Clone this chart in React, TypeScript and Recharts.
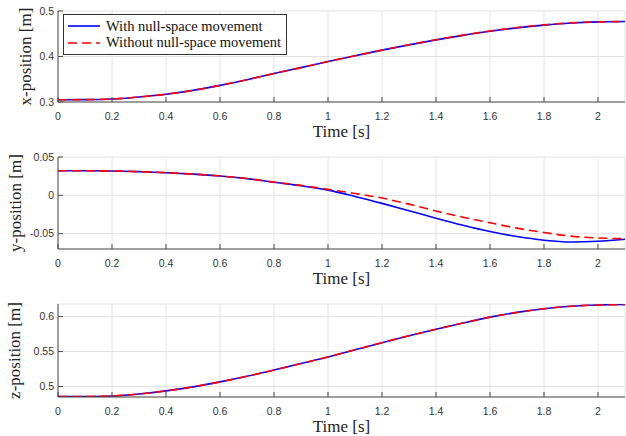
import { LineChart, Line, XAxis, YAxis, CartesianGrid, Legend } from 'recharts';

const SERIF = '"Liberation Serif", "DejaVu Serif", serif';
const SANS = '"Liberation Sans", Arial, sans-serif';

// time samples [s]
const times = [0, 0.1, 0.2, 0.3, 0.4, 0.5, 0.6, 0.7, 0.8, 0.9, 1, 1.1, 1.2, 1.3, 1.4, 1.5, 1.6, 1.7, 1.8, 1.9, 2, 2.1];
const timeTicks = [0, 0.2, 0.4, 0.6, 0.8, 1, 1.2, 1.4, 1.6, 1.8, 2];

const xWithNull = [0.305, 0.3052, 0.3065, 0.311, 0.317, 0.3255, 0.3365, 0.349, 0.3625, 0.3755, 0.389, 0.4015, 0.414, 0.4255, 0.4365, 0.4465, 0.4555, 0.463, 0.469, 0.4735, 0.476, 0.4768];
const xWithoutNull = [0.305, 0.3052, 0.3065, 0.311, 0.317, 0.3255, 0.3365, 0.349, 0.3625, 0.3755, 0.389, 0.4015, 0.414, 0.4257, 0.4368, 0.447, 0.456, 0.4636, 0.4695, 0.4738, 0.4762, 0.4768];

const yWithNull = [0.032, 0.032, 0.0318, 0.0309, 0.0295, 0.0277, 0.0253, 0.0218, 0.017, 0.0125, 0.0068, -0.0015, -0.0105, -0.02, -0.0298, -0.039, -0.0472, -0.0538, -0.0585, -0.0608, -0.0598, -0.0572];
const yWithoutNull = [0.032, 0.032, 0.0318, 0.0309, 0.0295, 0.0277, 0.0253, 0.0219, 0.0172, 0.013, 0.0078, 0.0025, -0.0035, -0.0115, -0.0205, -0.0285, -0.0358, -0.0428, -0.0485, -0.0532, -0.0556, -0.0566];

const zWithNull = [0.4855, 0.4857, 0.4865, 0.4893, 0.4937, 0.4995, 0.5066, 0.5146, 0.5235, 0.5328, 0.5423, 0.5525, 0.5627, 0.5725, 0.5818, 0.5908, 0.5992, 0.606, 0.6112, 0.6148, 0.6166, 0.6172];
const zWithoutNull = [0.4855, 0.4857, 0.4865, 0.4893, 0.4937, 0.4995, 0.5066, 0.5146, 0.5235, 0.5328, 0.5423, 0.5525, 0.5627, 0.5725, 0.5818, 0.5908, 0.5992, 0.606, 0.6112, 0.6148, 0.6166, 0.6172];

const seriesNames = ['With null-space movement', 'Without null-space movement'];

const panels = [
  { label: 'x-position [m]', top: 0, plotH: 91, labelOffset: 24.5, domain: [0.3, 0.5], ticks: [0.3, 0.4, 0.5], a: xWithNull, b: xWithoutNull, legend: true },
  { label: 'y-position [m]', top: 146, plotH: 92, labelOffset: 14.5, domain: [-0.07, 0.05], ticks: [-0.05, 0, 0.05], a: yWithNull, b: yWithoutNull, legend: false },
  { label: 'z-position [m]', top: 293, plotH: 93, labelOffset: 14, domain: [0.485, 0.618], ticks: [0.5, 0.55, 0.6], a: zWithNull, b: zWithoutNull, legend: false },
];

const AXIS = '#4a4a4a';
const TICK_LEN = 5;

// ticks point inwards, MATLAB style
const BottomTick = ({ x, y, payload }: any) => (
  <g>
    <line x1={x} x2={x} y1={y} y2={y - TICK_LEN} stroke={AXIS} />
    <text x={x} y={y + 18.3} textAnchor="middle" fontFamily={SANS} fontSize={10.5} fill="#333">{payload.value}</text>
  </g>
);
const TopTick = ({ x, y }: any) => <line x1={x} x2={x} y1={y} y2={y + TICK_LEN} stroke={AXIS} />;
const LeftTick = ({ x, y, payload }: any) => (
  <g>
    <line x1={x} x2={x + TICK_LEN} y1={y} y2={y} stroke={AXIS} />
    <text x={x - 4} y={y + 3.8} textAnchor="end" fontFamily={SANS} fontSize={10.5} fill="#333">{payload.value}</text>
  </g>
);
const RightTick = ({ x, y }: any) => <line x1={x} x2={x - TICK_LEN} y1={y} y2={y} stroke={AXIS} />;

const renderLegend = (props: any) => (
  <div style={{ border: '1px solid #333', background: '#fff', width: 222, padding: '3px 0', fontFamily: SERIF, fontSize: 14.5, color: '#111' }}>
    {(props.payload || []).map((e: any) => (
      <div key={e.value} style={{ display: 'flex', alignItems: 'center', height: 16.5 }}>
        <svg width={42} height={10}>
          <line x1={4} x2={36} y1={5} y2={5} stroke={e.color} strokeWidth={1.6} strokeDasharray={e.payload?.strokeDasharray} />
        </svg>
        <span style={{ whiteSpace: 'nowrap' }}>{e.value}</span>
      </div>
    ))}
  </div>
);

function Panel({ p }: { p: (typeof panels)[number] }) {
  const rows = times.map((t, i) => ({ t, a: p.a[i], b: p.b[i] }));
  return (
    <div style={{ position: 'absolute', left: 0, top: p.top }}>
      <LineChart width={626} height={11 + p.plotH + 38} data={rows} margin={{ top: 11, right: 1, bottom: 0, left: 0 }}>
        <CartesianGrid stroke="#e2e2e2" />
        <XAxis dataKey="t" type="number" domain={[0, 2.1]} ticks={timeTicks} allowDataOverflow
          height={38} stroke={AXIS} tickLine={false} tickSize={0} tickMargin={0} tick={<BottomTick />}
          label={{ value: 'Time [s]', position: 'insideBottom', offset: 3, style: { fontFamily: SERIF, fontSize: 17, fill: '#222' } }} />
        <XAxis xAxisId="top" orientation="top" dataKey="t" type="number" domain={[0, 2.1]} ticks={timeTicks}
          allowDataOverflow height={0} stroke={AXIS} tickLine={false} tickSize={0} tickMargin={0} tick={<TopTick />} />
        <YAxis type="number" domain={p.domain} ticks={p.ticks} allowDataOverflow width={58} stroke={AXIS}
          tickLine={false} tickSize={0} tickMargin={0} tick={<LeftTick />}
          label={{ value: p.label, angle: -90, position: 'insideLeft', offset: p.labelOffset, style: { textAnchor: 'middle', fontFamily: SERIF, fontSize: 17, fill: '#222' } }} />
        <YAxis yAxisId="right" orientation="right" type="number" domain={p.domain} ticks={p.ticks} allowDataOverflow
          width={0} stroke={AXIS} tickLine={false} tickSize={0} tickMargin={0} tick={<RightTick />} />
        <Line dataKey="a" name={seriesNames[0]} stroke="#0000ff" strokeWidth={1.6} dot={false} type="monotone" isAnimationActive={false} />
        <Line dataKey="b" name={seriesNames[1]} stroke="#ff0000" strokeWidth={1.6} strokeDasharray="9 5" dot={false} type="monotone" isAnimationActive={false} />
        {p.legend && (
          <Legend layout="vertical" align="center" verticalAlign="middle" content={renderLegend}
            wrapperStyle={{ top: 14, left: 63, width: 'auto', height: 'auto' }} />
        )}
      </LineChart>
    </div>
  );
}

export default function App() {
  return (
    <div style={{ position: 'absolute', left: 0, top: 0, width: 626, height: 436, background: '#fff', overflow: 'hidden' }}>
      {panels.map((p) => (
        <Panel key={p.label} p={p} />
      ))}
    </div>
  );
}
